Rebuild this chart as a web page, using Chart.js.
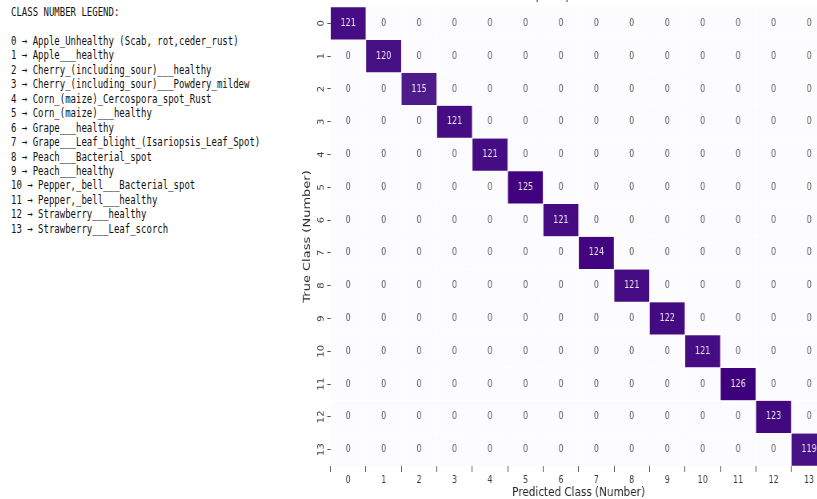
<!DOCTYPE html>
<html>
<head>
<meta charset="utf-8">
<script src="https://cdn.jsdelivr.net/npm/chart.js@4.4.0/dist/chart.umd.min.js"></script>
<style>
  html, body { margin:0; padding:0; background:#fff; width:817px; height:499px; overflow:hidden; position:relative; }
  #legend { position:absolute; left:11px; top:5px; margin:0; font:12px/14.45px "DejaVu Sans Mono", monospace; color:#111; transform:scaleX(.75); transform-origin:0 0; white-space:pre; }
  /* the source picture is squeezed sideways, so the canvas is drawn wide then squeezed */
  #wrap { position:absolute; left:290px; top:0; width:671px; height:499px; transform:scaleX(.8); transform-origin:0 0; }
</style>
</head>
<body>
<pre id="legend"></pre>
<div id="wrap"><canvas id="cm" width="671" height="499"></canvas></div>
<script>
/* ---- data ---- */
const classIds = ['0','1','2','3','4','5','6','7','8','9','10','11','12','13'];
const classNames = [
  'Apple_Unhealthy (Scab, rot,ceder_rust)',
  'Apple___healthy',
  'Cherry_(including_sour)___healthy',
  'Cherry_(including_sour)___Powdery_mildew',
  'Corn_(maize)_Cercospora_spot_Rust',
  'Corn_(maize)___healthy',
  'Grape___healthy',
  'Grape___Leaf_blight_(Isariopsis_Leaf_Spot)',
  'Peach___Bacterial_spot',
  'Peach___healthy',
  'Pepper,_bell___Bacterial_spot',
  'Pepper,_bell___healthy',
  'Strawberry___healthy',
  'Strawberry___Leaf_scorch'
];
// rows = true class, columns = predicted class
const confusion = [
  [121,  0,  0,  0,  0,  0,  0,  0,  0,  0,  0,  0,  0,  0],
  [  0,120,  0,  0,  0,  0,  0,  0,  0,  0,  0,  0,  0,  0],
  [  0,  0,115,  0,  0,  0,  0,  0,  0,  0,  0,  0,  0,  0],
  [  0,  0,  0,121,  0,  0,  0,  0,  0,  0,  0,  0,  0,  0],
  [  0,  0,  0,  0,121,  0,  0,  0,  0,  0,  0,  0,  0,  0],
  [  0,  0,  0,  0,  0,125,  0,  0,  0,  0,  0,  0,  0,  0],
  [  0,  0,  0,  0,  0,  0,121,  0,  0,  0,  0,  0,  0,  0],
  [  0,  0,  0,  0,  0,  0,  0,124,  0,  0,  0,  0,  0,  0],
  [  0,  0,  0,  0,  0,  0,  0,  0,121,  0,  0,  0,  0,  0],
  [  0,  0,  0,  0,  0,  0,  0,  0,  0,122,  0,  0,  0,  0],
  [  0,  0,  0,  0,  0,  0,  0,  0,  0,  0,121,  0,  0,  0],
  [  0,  0,  0,  0,  0,  0,  0,  0,  0,  0,  0,126,  0,  0],
  [  0,  0,  0,  0,  0,  0,  0,  0,  0,  0,  0,  0,123,  0],
  [  0,  0,  0,  0,  0,  0,  0,  0,  0,  0,  0,  0,  0,119]
];
const chartTitle = 'Deep Adapted CNN';

/* ---- legend text ---- */
document.getElementById('legend').textContent =
  'CLASS NUMBER LEGEND:\n\n' + classNames.map((n,i)=>`${classIds[i]} \u2192 ${n}`).join('\n');

/* ---- Purples colormap ---- */
const PURPLES = ['#fcfbfd','#efedf5','#dadaeb','#bcbddc','#9e9ac8','#807dba','#6a51a3','#54278f','#3f007d'];
const hex = h => [1,3,5].map(i=>parseInt(h.substr(i,2),16));
function purples(t){
  t = Math.max(0, Math.min(1, t));
  const p = t*(PURPLES.length-1), i = Math.min(Math.floor(p), PURPLES.length-2), f = p-i;
  const a = hex(PURPLES[i]), b = hex(PURPLES[i+1]);
  return `rgb(${a.map((v,k)=>Math.round(v+(b[k]-v)*f)).join(',')})`;
}
const vmax = Math.max(...confusion.flat());

/* one floating-bar dataset per true-class row */
const rows = classIds.map((_, r) => ({
  data: classIds.map(() => [r-0.5, r+0.5]),
  backgroundColor: confusion[r].map(v => purples(v/vmax)),
  borderColor: 'rgba(255,255,255,0.55)',
  borderWidth: 0.6,
  borderSkipped: false,
  grouped: false,
  barPercentage: 1,
  categoryPercentage: 1
}));

const cellText = {
  id: 'cellText',
  afterDatasetsDraw(chart){
    const {ctx, scales:{x, y}} = chart;
    ctx.save();
    ctx.font = '10px "DejaVu Sans", sans-serif';
    ctx.textAlign = 'center'; ctx.textBaseline = 'middle';
    confusion.forEach((row, r) => row.forEach((v, c) => {
      ctx.fillStyle = v/vmax > 0.5 ? '#ece6f4' : '#5c5c5c';
      ctx.fillText(String(v), x.getPixelForValue(c), y.getPixelForValue(r));
    }));
    // title, mostly cut off by the top edge
    ctx.font = '13px "DejaVu Sans", sans-serif';
    ctx.fillStyle = '#333';
    ctx.textBaseline = 'alphabetic';
    ctx.fillText(chartTitle, 344, -1);
    ctx.restore();
  }
};

new Chart(document.getElementById('cm'), {
  type: 'bar',
  data: { labels: classIds, datasets: rows },
  options: {
    responsive: false,
    animation: false,
    layout: { padding: { top: 5.5, right: 0, bottom: 0, left: 0 } },
    plugins: { legend: { display:false }, tooltip: { enabled:false } },
    scales: {
      x: {
        type: 'category',
        grid: { display:true, drawOnChartArea:false, drawTicks:true, tickLength:6, color:'#555', lineWidth:1 },
        border: { display:false },
        ticks: { color:'#3a3a3a', font:{ size:10, family:'"DejaVu Sans", sans-serif' }, padding:2, maxRotation:0, minRotation:0 },
        title: { display:true, text:'Predicted Class (Number)', color:'#262626', font:{ size:13, family:'"DejaVu Sans", sans-serif', lineHeight:1 }, padding:{ top:0, bottom:0 } },
        afterFit: s => { s.height = 33; }
      },
      y: {
        type: 'linear',
        min: -0.5, max: 13.5, reverse: true,
        afterBuildTicks: s => { s.ticks = classIds.map((_, i) => ({ value:i })); },
        grid: { display:true, drawOnChartArea:false, drawTicks:true, tickLength:4, color:'#555', lineWidth:1 },
        border: { display:false },
        ticks: { color:'#3a3a3a', font:{ size:10, family:'"DejaVu Sans", sans-serif' }, padding:1, minRotation:90, maxRotation:90, crossAlign:'center',
                 callback: v => classIds[v] },
        title: { display:true, text:'True Class (Number)', color:'#262626', font:{ size:13, family:'"DejaVu Sans", sans-serif', lineHeight:1.2 }, padding:{ top:14, bottom:0 } },
        afterFit: s => { s.width = 50.6; }
      }
    }
  },
  plugins: [cellText]
});
</script>
</body>
</html>
